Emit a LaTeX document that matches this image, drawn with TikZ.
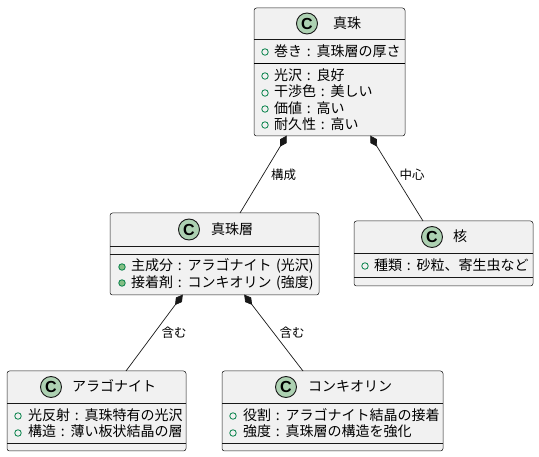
\documentclass[tikz,border=0pt]{standalone}
\usepackage{fontspec}
\setmainfont{Noto Sans CJK JP}[WordSpace=1.5]
\newfontfamily\spotfont{Liberation Sans}[Scale=1.0]
\usetikzlibrary{arrows.meta, positioning, calc}
\definecolor{umlfill}{HTML}{F1F1F1}
\definecolor{umlline}{HTML}{181818}
\definecolor{umlspot}{HTML}{ADD1B2}
\definecolor{umlvis}{HTML}{038048}
\definecolor{umlvisfill}{HTML}{84BE84}

\begin{document}
\begin{tikzpicture}[x=1pt, y=-1pt, every node/.style={font=\fontsize{14}{16}\selectfont, text=black},
    classbox/.style={rectangle, draw=umlline, line width=0.5pt, fill=umlfill, rounded corners=2.5pt, inner sep=0pt, outer sep=0pt},
    spot/.style={circle, draw=umlline, line width=0.9pt, fill=umlspot, minimum size=21pt, inner sep=0pt, font=\spotfont\fontsize{16}{16}\selectfont\bfseries},
    title/.style={anchor=west, inner sep=0pt, text height=12pt, text depth=2pt},
    attr/.style={anchor=west, inner sep=0pt, text height=12pt, text depth=2pt},
    visopen/.style={circle, draw=umlvis, line width=0.8pt, minimum size=6.5pt, inner sep=0pt},
    visfull/.style={visopen, fill=umlvisfill},
    sep/.style={draw=umlline, line width=0.5pt},
    comp/.style={{Diamond[length=13pt, width=7.5pt]}-, draw=umlline, line width=0.7pt, shorten <=-0.5pt},
    rel/.style={font=\fontsize{12.5}{14}\selectfont, inner sep=0pt}
]
    \useasboundingbox (0,0) rectangle (539,457);

    % boxes
    \node[classbox, minimum width=151pt, minimum height=128pt] (pearl) at (329.5,72) {};
    \node[classbox, minimum width=209pt, minimum height=82pt] (layer) at (214.5,254) {};
    \node[classbox, minimum width=179pt, minimum height=65pt] (core) at (443.5,253.5) {};
    \node[classbox, minimum width=179pt, minimum height=80pt] (aragonite) at (96.5,411) {};
    \node[classbox, minimum width=221pt, minimum height=80pt] (conchiolin) at (332.5,411) {};

    % compartments
    \draw[sep] (pearl.west |- 0,39) -- (pearl.east |- 0,39);
    \draw[draw=black, line width=0.9pt] (pearl.west |- 0,63) -- (pearl.east |- 0,63);
    \draw[sep] (layer.west |- 0,246) -- (layer.east |- 0,246);
    \draw[sep] (layer.west |- 0,254) -- (layer.east |- 0,254);
    \draw[sep] (core.west |- 0,253) -- (core.east |- 0,253);
    \draw[sep] (core.west |- 0,277) -- (core.east |- 0,277);
    \draw[sep] (aragonite.west |- 0,403) -- (aragonite.east |- 0,403);
    \draw[sep] (aragonite.west |- 0,443) -- (aragonite.east |- 0,443);
    \draw[sep] (conchiolin.west |- 0,403) -- (conchiolin.east |- 0,403);
    \draw[sep] (conchiolin.west |- 0,443) -- (conchiolin.east |- 0,443);

    % headers
    \node[spot] (pearlspot) at (307,23.5) {C};
    \node[title] (pearltitle) at (333,23.5) {真珠};
    \node[spot] (layerspot) at (189,229.5) {C};
    \node[title] (layertitle) at (211,229.5) {真珠層};
    \node[spot] (corespot) at (432,237) {C};
    \node[title] (coretitle) at (453,237) {核};
    \node[spot] (aragonitespot) at (51,387) {C};
    \node[title] (aragonitetitle) at (72,387) {アラゴナイト};
    \node[spot] (conchiolinspot) at (286,387) {C};
    \node[title] (conchiolintitle) at (308,387) {コンキオリン};

    % members
    \node[visopen] (pearlv1) at (265,52) {};
    \node[attr] (pearla1) at (274,52) {巻き : 真珠層の厚さ};
    \node[visopen] (pearlv2) at (265,76) {};
    \node[attr] (pearla2) at (274,75.5) {光沢 : 良好};
    \node[visopen] (pearlv3) at (265,93) {};
    \node[attr] (pearla3) at (274,92) {干渉色 : 美しい};
    \node[visopen] (pearlv4) at (265,109) {};
    \node[attr] (pearla4) at (274,108.5) {価値 : 高い};
    \node[visopen] (pearlv5) at (265,125) {};
    \node[attr] (pearla5) at (274,124.5) {耐久性 : 高い};

    \node[visfull] (layerv1) at (122,267) {};
    \node[attr] (layera1) at (131,266) {主成分 : アラゴナイト (光沢)};
    \node[visfull] (layerv2) at (122,283) {};
    \node[attr] (layera2) at (131,282.5) {接着剤 : コンキオリン (強度)};

    \node[visopen] (corev1) at (365,266) {};
    \node[attr] (corea1) at (374,265.5) {種類 : 砂粒、寄生虫など};

    \node[visopen] (aragonitev1) at (18,416) {};
    \node[attr] (aragonitea1) at (28,415.5) {光反射 : 真珠特有の光沢};
    \node[visopen] (aragonitev2) at (18,433) {};
    \node[attr] (aragonitea2) at (28,432) {構造 : 薄い板状結晶の層};

    \node[visopen] (conchiolinv1) at (233,416) {};
    \node[attr] (conchiolina1) at (243,415.5) {役割 : アラゴナイト結晶の接着};
    \node[visopen] (conchiolinv2) at (233,433) {};
    \node[attr] (conchiolina2) at (243,432) {強度 : 真珠層の構造を強化};

    % relations
    \draw[comp] ([xshift=-43pt]pearl.south) -- ([xshift=25.5pt]layer.north) node[rel, midway, right, xshift=7.5pt, yshift=-0.5pt] (rel1) {構成};
    \draw[comp] ([xshift=41pt]pearl.south) -- ([xshift=-20.5pt]core.north) node[rel, midway, right, xshift=2.5pt, yshift=3.5pt] (rel2) {中心};
    \draw[comp] ([xshift=-32pt]layer.south) -- ([xshift=29.5pt]aragonite.north) node[rel, midway, right, xshift=7pt] (rel3) {含む};
    \draw[comp] ([xshift=30pt]layer.south) -- ([xshift=-29.5pt]conchiolin.north) node[rel, midway, right, xshift=5.5pt] (rel4) {含む};
\end{tikzpicture}
\end{document}
